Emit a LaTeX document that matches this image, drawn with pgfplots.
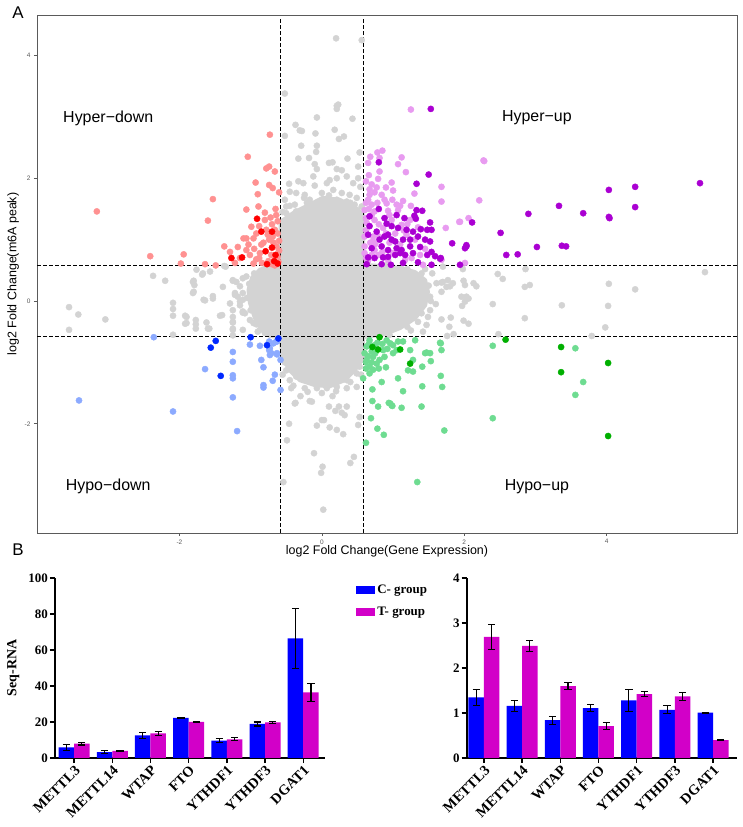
\documentclass[border=0pt]{standalone}
\usepackage{pgfplots}
\pgfplotsset{compat=1.18}
\usepackage{pgfplotstable}
\usepackage{fontspec}
\setmainfont{Liberation Serif}
\setsansfont{Liberation Sans}

\definecolor{ggray}{RGB}{211,211,211}
\definecolor{hdlight}{RGB}{255,145,145}
\definecolor{hddark}{RGB}{255,0,0}
\definecolor{hulight}{RGB}{232,155,240}
\definecolor{hudark}{RGB}{170,0,210}
\definecolor{pdlight}{RGB}{140,170,255}
\definecolor{pddark}{RGB}{0,40,255}
\definecolor{pulight}{RGB}{110,220,145}
\definecolor{pudark}{RGB}{0,175,0}
\definecolor{cgrp}{RGB}{0,0,255}
\definecolor{tgrp}{RGB}{210,0,200}
\definecolor{axgray}{RGB}{90,90,90}

% Seq-RNA counts: mean and error for C- and T- groups
\pgfplotstableread{
x  c     ce    t     te
0  5.9   1.6   8.0   0.8
1  3.2   0.8   3.9   0.3
2  12.6  1.6   13.7  1.1
3  22.3  0.4   20.0  0.3
4  9.6   1.0   10.4  0.8
5  18.9  1.1   19.8  0.4
6  66.5  16.6  36.4  4.9
}\seqcounts

% relative expression
\pgfplotstableread{
x  c     ce    t     te
0  1.35  0.18  2.69  0.28
1  1.16  0.12  2.49  0.12
2  0.84  0.09  1.60  0.07
3  1.11  0.07  0.71  0.07
4  1.28  0.25  1.42  0.05
5  1.07  0.09  1.37  0.09
6  1.01  0.01  0.40  0.02
}\relexpr

\pgfplotsset{
  dot/.style={only marks, mark=*, mark size=3.1bp, color=#1, mark options={draw=#1, fill=#1}},
  barpanel/.style={
    scale only axis, width=270bp, height=180bp,
    ymin=0,
    axis x line*=bottom, axis y line*=left,
    axis line style={-, black, line width=1.6bp},
    tick style={black, line width=1.4bp},
    tick align=outside, major tick length=5bp,
    ybar=0pt, bar width=15.5bp,
    xtick={0,...,6},
    xticklabels={METTL3,METTL14,WTAP,FTO,YTHDF1,YTHDF3,DGAT1},
    xticklabel style={rotate=45, anchor=north east, inner sep=1bp,
      font=\bfseries\fontsize{14.5}{14.5}\selectfont},
    yticklabel style={font=\bfseries\fontsize{13}{13}\selectfont, inner sep=2bp},
    /pgf/number format/assume math mode=true,
    error bars/y dir=both, error bars/y explicit,
    error bars/error bar style={black, line width=1.1bp},
    error bars/error mark options={black, rotate=90, mark size=3.6bp, line width=1.1bp},
  },
}

\begin{document}
\begin{tikzpicture}
\path[use as bounding box] (0,0) rectangle (743bp,827bp);

% ---------------- panel A: m6A peak vs gene expression ----------------
\begin{axis}[
  at={(37bp,294bp)}, anchor=south west,
  scale only axis, width=700bp, height=518bp,
  xmin=-4.0, xmax=5.83, ymin=-3.78, ymax=4.66,
  xtick={-2,0,2,4}, ytick={-2,0,2,4},
  axis line style={axgray, line width=0.8bp},
  tick style={axgray, line width=0.6bp},
  tick align=outside, major tick length=3bp,
  xtick pos=bottom, ytick pos=left,
  ticklabel style={font=\sffamily\fontsize{6.5}{6.5}\selectfont, text=axgray},
  /pgf/number format/assume math mode=true,
  xlabel={log2 Fold Change(Gene Expression)},
  ylabel={log2 Fold Change(m6A peak)},
  label style={font=\sffamily\fontsize{12.5}{12.5}\selectfont},
  xlabel style={at={(axis description cs:0.5,-0.035)}, anchor=center},
  ylabel style={at={(axis description cs:-0.034,0.5)}, anchor=center},
]
% dense core of unchanged peaks
\addplot[fill=ggray, draw=ggray, line width=4bp, line join=round] coordinates {
 (-0.58,1.29) (-0.38,1.45) (-0.17,1.57) (0.01,1.68) (0.25,1.65) (0.46,1.53)
 (0.58,1.40) (0.58,0.59) (0.81,0.57) (1.10,0.54) (1.31,0.47) (1.45,0.34)
 (1.49,0.15) (1.45,-0.07) (1.31,-0.28) (1.10,-0.44) (0.88,-0.54) (0.58,-0.59)
 (0.58,-0.93) (0.46,-1.13) (0.32,-1.29) (0.11,-1.39) (-0.10,-1.37) (-0.31,-1.29)
 (-0.45,-1.13) (-0.55,-0.93) (-0.58,-0.59) (-0.73,-0.57) (-0.84,-0.47) (-0.94,-0.28)
 (-1.01,-0.03) (-1.03,0.18) (-0.98,0.38) (-0.87,0.51) (-0.73,0.57) (-0.58,0.59)
} -- cycle;
% unchanged peaks outside the core
\addplot[dot=ggray] coordinates {
 (0.20,4.28) (0.56,4.25) (-0.52,3.38) (0.21,3.18) (0.23,3.20) (0.21,3.13) (-0.07,2.99)
 (0.43,2.97) (-0.37,2.87) (-0.31,2.78) (-0.28,2.77) (-0.52,2.69) (0.18,2.79) (0.31,2.68)
 (0.24,2.64) (-0.09,2.73) (-0.29,2.53) (-0.07,2.53) (-0.08,2.43) (-0.33,2.32) (-0.18,2.33)
 (0.36,2.32) (0.53,2.42) (0.10,2.25) (0.15,2.26) (-0.10,2.23) (-0.07,2.15) (0.21,2.15)
 (0.28,2.13) (0.51,2.19) (-0.33,1.95) (-0.26,1.92) (-0.46,1.91) (-0.12,2.03) (-0.10,1.88)
 (0.07,1.92) (0.11,1.97) (0.21,2.00) (0.35,2.03) (0.44,1.92) (0.51,2.00) (0.54,1.86)
 (-0.45,1.78) (-0.36,1.76) (-0.24,1.73) (-0.17,1.65) (0.00,1.76) (0.16,1.81) (0.28,1.76)
 (0.39,1.73) (0.49,1.68) (-0.52,1.65) (-0.50,1.54) (-0.38,1.57) (-0.21,1.60) (-0.07,1.54)
 (0.07,1.62) (0.21,1.65) (0.35,1.62) (0.46,1.57) (0.56,1.54) (-0.50,1.43) (-0.36,1.46)
 (-0.19,1.43) (-0.03,1.48) (0.11,1.51) (0.25,1.47) (0.39,1.46) (0.53,1.40) (-0.54,1.30)
 (0.55,1.30) (-0.55,1.45) (-0.45,1.55) (0.50,1.48) (0.40,1.60) (-0.25,1.68) (0.10,1.72)
 (-3.55,-0.10) (-3.42,-0.22) (-3.55,-0.47) (-3.04,-0.30) (-2.37,0.41) (-2.20,0.33)
 (-2.09,-0.03) (-2.09,-0.13) (-2.09,-0.24) (-2.09,-0.55) (-1.92,-0.24) (-1.92,-0.37)
 (-1.80,0.33) (-1.79,0.26) (-1.81,0.13) (-1.77,-0.31) (-1.77,-0.38) (-1.77,-0.45)
 (-1.68,0.43) (-1.64,0.01) (-1.62,-0.35) (-1.58,-0.45) (-1.53,0.08) (-1.57,0.48)
 (-1.40,-0.23) (-1.39,0.23) (-1.37,0.57) (-1.29,-0.04) (-1.25,-0.15) (-1.25,-0.26)
 (-1.25,-0.35) (-1.25,-0.45) (-1.25,-0.56) (-1.25,0.33) (-1.20,0.31) (-1.22,0.10)
 (-1.18,0.07) (-1.11,0.02) (-1.11,-0.19) (-1.15,0.24) (-1.11,0.13) (-1.06,0.40)
 (-1.11,0.37) (-1.90,-0.26) (-1.90,-0.36) (-1.43,-0.24) (-1.53,0.04) (-1.66,0.02)
 (-1.15,-0.07) (-1.08,-0.20) (-0.96,-0.36) (-0.87,-0.47) (-1.81,0.31) (-1.80,0.15)
 (-1.67,0.45) (-1.25,0.34) (-1.11,-0.17) (-1.25,-0.34) (-1.11,-0.47) (-1.01,-0.31)
 (-1.60,-0.45) (-1.76,0.51) (-1.25,-0.47) (-1.22,0.13) (-1.15,-0.01) (-1.35,0.56)
 (-0.95,0.45) (-0.90,-0.50) (-1.05,0.05) (-1.02,0.28) (-1.00,-0.15) (-0.92,-0.38)
 (-0.80,-0.52)
 (-0.46,-2.00) (-0.49,-2.27) (-0.54,-2.95) (-0.37,-1.66) (-0.17,-1.63) (-0.14,-1.64)
 (-0.07,-2.03) (0.00,-1.94) (0.03,-1.94) (0.10,-1.72) (0.19,-1.79) (0.24,-1.72)
 (0.28,-1.82) (0.35,-1.72) (0.32,-1.86) (0.11,-2.06) (0.21,-2.10) (0.30,-2.17)
 (-0.11,-2.48) (0.01,-2.70) (-0.01,-2.80) (0.40,-2.64) (0.45,-2.54) (0.02,-3.40)
 (0.53,-1.89) (0.51,-2.02) (-0.43,-1.42) (-0.24,-1.42) (-0.07,-1.42) (0.07,-1.42)
 (0.21,-1.40) (0.35,-1.42) (0.49,-1.40) (-0.50,-1.13) (-0.45,-1.29) (-0.36,-1.23)
 (-0.21,-1.29) (0.35,-1.29) (0.49,-1.18) (0.53,-1.07) (-0.38,-1.67) (-0.30,-1.55)
 (0.15,-1.55) (-0.52,-1.00) (0.55,-0.90) (-0.55,-1.20) (-0.40,-1.38) (-0.20,-1.48)
 (0.00,-1.50) (0.20,-1.47) (0.40,-1.32) (0.55,-1.20)
 (1.70,0.56) (1.68,0.30) (1.77,0.34) (1.80,0.24) (1.84,0.29) (1.75,0.23) (1.98,0.52)
 (1.99,0.33) (2.01,0.26) (1.96,0.07) (2.03,0.07) (2.06,0.04) (1.97,-0.08) (2.01,-0.01)
 (2.13,0.29) (2.17,0.24) (1.68,-0.30) (1.81,-0.27) (1.79,-0.42) (1.99,-0.32) (2.06,-0.37)
 (1.85,-0.54) (1.76,-0.57) (2.40,-0.05) (2.47,0.44) (2.54,0.36) (2.48,-0.54) (2.86,0.52)
 (2.85,0.23) (2.92,0.26) (2.85,-0.28) (3.37,-0.07) (3.79,-0.57) (3.98,-0.43) (4.03,0.28)
 (4.02,-0.08) (4.40,0.19) (5.38,0.47) (1.61,0.29) (1.70,0.31) (1.68,0.15) (1.52,-0.15)
 (1.49,-0.26) (1.47,-0.39) (1.42,-0.50) (1.35,-0.34) (1.38,0.02) (1.52,0.07) (1.38,0.26)
 (1.55,0.45) (1.45,0.52) (1.25,-0.48) (1.60,-0.05) (1.50,0.25) (1.53,0.00) (1.40,-0.20)
 (1.20,-0.42) (0.95,-0.55) (1.20,0.52) (1.40,0.45) (0.90,0.58)
};
% hyper-down
\addplot[dot=hdlight] coordinates {
 (-3.16,1.46) (-2.41,0.73) (-1.94,0.76) (-1.98,0.61) (-1.64,0.60) (-1.49,0.58)
 (-1.53,1.66) (-1.60,1.31) (-1.37,0.89) (-1.29,0.80) (-1.04,2.35) (-1.06,1.49)
 (-1.10,1.02) (-1.06,1.02) (-0.96,1.02) (-0.93,1.93) (-0.90,1.74) (-0.99,1.21)
 (-0.89,1.54) (-1.06,0.83) (-1.15,0.70) (-1.01,0.75) (-0.80,1.44) (-0.78,2.16)
 (-0.74,2.19) (-0.74,1.89) (-0.69,1.84) (-0.66,2.11) (-0.65,1.50) (-0.60,1.77)
 (-0.73,2.71) (-0.80,1.32) (-0.78,1.16) (-0.74,1.00) (-0.69,1.05) (-0.66,1.16)
 (-0.64,0.89) (-0.71,0.75) (-0.87,0.78) (-0.96,0.61) (-0.61,0.64) (-0.62,1.30)
 (-0.68,0.95) (-0.62,0.72) (-0.75,0.65) (-0.85,0.92) (-0.92,0.68) (-0.62,1.10)
 (-0.95,0.85) (-0.88,0.70) (-0.82,0.95) (-0.76,1.08) (-0.70,1.25) (-0.64,1.40)
 (-0.92,1.10) (-0.66,0.58) (-0.84,0.62) (-1.03,0.92) (-0.60,0.98) (-0.72,1.36)
 (-0.88,1.22) (-1.18,0.88) (-1.22,0.62) (-0.60,0.82) (-0.70,0.60)
};
\addplot[dot=hddark] coordinates {
 (-0.91,1.34) (-0.85,1.13) (-0.70,1.13) (-0.70,0.87) (-0.79,0.81) (-0.65,0.75)
 (-0.67,0.65) (-0.77,0.60) (-0.62,0.61) (-1.12,0.71) (-1.27,0.70)
};
% hyper-up
\addplot[dot=hulight] coordinates {
 (0.78,2.42) (0.81,2.33) (0.65,2.25) (1.12,2.34) (1.07,2.23) (1.18,2.10) (0.79,1.99)
 (0.98,1.93) (0.81,2.11) (1.68,1.86) (1.68,1.62) (2.21,1.64) (2.27,2.29) (0.67,1.82)
 (0.67,1.73) (0.74,1.77) (0.65,1.65) (0.84,1.73) (0.99,1.65) (1.14,1.63) (1.05,1.57)
 (0.70,1.57) (0.91,1.59) (0.74,1.46) (0.93,1.47) (1.07,1.48) (1.24,1.32) (1.12,1.24)
 (0.86,1.19) (1.03,1.10) (0.72,0.97) (0.60,0.89) (0.63,1.27) (0.74,1.32) (1.19,1.08)
 (1.31,1.00) (0.74,0.83) (0.60,0.78) (0.93,0.67) (1.26,0.70) (1.38,0.75) (1.94,1.29)
 (2.06,1.35) (1.74,1.19) (1.68,0.67) (1.42,0.59) (1.17,0.67) (0.79,0.75) (0.72,1.05)
 (0.98,1.32) (0.60,1.48) (0.60,1.05) (1.25,3.12) (1.93,1.29) (2.28,2.28) (2.01,0.62)
 (0.62,1.60) (0.70,1.40) (0.80,1.25) (0.90,1.10) (0.75,0.93) (0.85,0.80) (0.65,0.66)
 (1.00,0.78) (1.10,0.92) (1.20,1.25) (0.95,1.40) (1.10,1.55) (0.88,1.65) (0.77,1.85)
 (0.62,1.95) (1.25,1.55) (1.35,1.20) (1.45,0.85) (0.62,1.15) (0.70,0.75) (0.66,2.05)
 (0.85,2.45) (0.90,1.85) (1.30,1.75) (0.68,2.35) (0.62,1.35) (0.66,1.50) (0.78,1.60)
 (0.68,0.95) (0.80,1.05) (0.95,0.95) (1.15,1.15) (0.62,0.70) (1.00,1.80) (0.70,1.90)
};
\addplot[dot=hudark] coordinates {
 (0.80,2.26) (1.50,2.06) (1.33,1.91) (0.80,1.50) (1.33,1.48) (1.41,1.47) (1.05,1.40)
 (1.30,1.39) (1.16,1.35) (1.32,1.34) (0.67,1.38) (0.88,1.35) (0.67,1.22) (0.91,1.26)
 (0.98,1.22) (1.07,1.19) (1.19,1.16) (1.28,1.13) (1.39,1.17) (1.52,1.28) (1.48,1.16)
 (1.54,1.16) (0.65,1.08) (0.77,1.13) (0.81,1.00) (0.88,1.05) (0.93,1.08) (0.98,1.00)
 (1.03,0.97) (1.14,1.00) (1.24,1.00) (1.35,1.05) (1.45,1.00) (1.52,0.97) (0.70,0.86)
 (0.84,0.89) (0.93,0.83) (1.05,0.86) (1.12,0.83) (1.24,0.89) (1.38,0.88) (0.65,0.71)
 (0.74,0.70) (0.86,0.71) (0.93,0.72) (1.03,0.75) (1.10,0.78) (1.17,0.75) (1.28,0.78)
 (1.54,0.80) (1.59,0.73) (1.48,0.75) (1.67,0.70) (0.63,0.60) (0.84,0.60) (0.97,0.59)
 (1.14,0.62) (1.35,0.63) (1.54,0.59) (1.94,0.59) (1.83,0.94) (2.03,0.89) (2.11,1.28)
 (2.01,0.86) (1.53,3.13) (2.03,0.91) (1.66,0.69) (2.51,1.11) (2.90,1.42) (2.59,0.75)
 (2.75,0.76) (3.02,0.88) (3.33,1.55) (3.67,1.43) (3.37,0.90) (3.43,0.89) (4.03,1.81)
 (4.40,1.86) (4.03,1.37) (4.04,1.35) (4.40,1.53) (5.31,1.92)
};
% hypo-down
\addplot[dot=pdlight] coordinates {
 (-2.36,-0.59) (-3.41,-1.62) (-2.09,-1.80) (-1.19,-2.12) (-1.64,-1.11) (-1.25,-0.83)
 (-1.25,-0.99) (-1.25,-1.21) (-1.25,-1.26) (-1.25,-1.57) (-1.01,-0.71) (-0.87,-0.73)
 (-0.85,-0.96) (-0.82,-1.08) (-0.82,-1.37) (-0.82,-1.41) (-0.69,-1.30) (-0.66,-1.20)
 (-0.74,-0.80) (-0.68,-0.69) (-0.63,-0.85) (-0.58,-0.96) (-0.58,-1.45) (-0.73,-0.88)
 (-0.64,-0.66) (-0.73,-0.77) (-0.71,-0.85) (-0.63,-0.87) (-0.74,-0.66) (-0.63,-0.66)
};
\addplot[dot=pddark] coordinates {
 (-1.49,-0.65) (-1.56,-0.76) (-1.42,-1.22) (-1.00,-0.59) (-0.77,-0.72) (-0.61,-0.61)
};
% hypo-up
\addplot[dot=pulight] coordinates {
 (0.67,-0.64) (0.63,-0.74) (0.60,-0.85) (0.63,-0.96) (0.67,-1.07) (0.58,-1.26)
 (0.72,-0.91) (0.77,-1.02) (0.81,-0.96) (0.86,-0.80) (0.96,-0.69) (1.00,-0.85)
 (1.07,-0.66) (1.14,-0.66) (1.31,-0.64) (1.24,-0.80) (1.28,-0.96) (1.21,-1.13)
 (1.07,-1.26) (0.84,-1.32) (0.71,-1.44) (0.79,-1.72) (0.96,-1.67) (0.99,-1.71)
 (1.12,-1.74) (1.40,-1.72) (1.41,-1.39) (1.41,-1.07) (1.47,-0.84) (1.52,-0.85)
 (1.53,-0.98) (1.67,-0.69) (1.68,-0.80) (1.67,-1.22) (1.69,-1.40) (0.69,-1.91)
 (0.78,-2.08) (0.87,-2.18) (0.62,-2.31) (1.72,-2.11) (1.34,-2.95) (0.71,-1.63)
 (0.67,-1.18) (0.74,-0.72) (0.88,-0.91) (0.91,-0.64) (2.40,-0.73) (2.40,-1.91)
 (3.56,-0.77) (3.67,-1.32) (3.56,-1.53) (1.66,-0.68) (1.14,-1.47) (1.28,-1.15)
 (1.45,-0.85) (0.94,-1.66) (0.98,-1.70) (0.65,-0.90) (0.70,-0.82) (0.75,-0.85)
 (0.62,-1.00) (0.70,-1.00) (0.78,-0.68) (0.85,-0.70) (0.92,-0.78) (0.66,-0.70)
 (0.80,-1.10) (0.90,-1.08) (1.00,-0.72) (1.05,-0.80) (0.72,-1.12) (0.62,-1.10)
};
\addplot[dot=pudark] coordinates {
 (0.81,-0.59) (0.71,-0.75) (0.79,-0.79) (1.10,-0.79) (1.24,-1.02) (2.58,-0.63)
 (3.36,-0.75) (3.36,-1.16) (4.02,-1.01) (4.02,-2.20)
};
% 1.5-fold thresholds
\addplot[black, dashed, dash pattern=on 3.5bp off 2.5bp, line width=0.9bp] coordinates {(-0.585,-3.78) (-0.585,4.61)};
\addplot[black, dashed, dash pattern=on 3.5bp off 2.5bp, line width=0.9bp] coordinates {(0.585,-3.78) (0.585,4.61)};
\addplot[black, dashed, dash pattern=on 3.5bp off 2.5bp, line width=0.9bp] coordinates {(-4.0,0.585) (5.83,0.585)};
\addplot[black, dashed, dash pattern=on 3.5bp off 2.5bp, line width=0.9bp] coordinates {(-4.0,-0.585) (5.83,-0.585)};
% quadrant names
\node[font=\sffamily\fontsize{16}{16}\selectfont] at (axis cs:-3.0,2.98) {Hyper−down};
\node[font=\sffamily\fontsize{16}{16}\selectfont] at (axis cs:3.02,2.98) {Hyper−up};
\node[font=\sffamily\fontsize{16}{16}\selectfont] at (axis cs:-3.0,-3.02) {Hypo−down};
\node[font=\sffamily\fontsize{16}{16}\selectfont] at (axis cs:3.02,-3.02) {Hypo−up};
\end{axis}

% ---------------- panel B, left: Seq-RNA ----------------
\begin{axis}[
  barpanel,
  at={(55bp,69bp)}, anchor=south west,
  xmin=-0.5, xmax=6.57, ymax=100,
  ytick={0,20,40,60,80,100},
  ylabel={Seq-RNA},
  ylabel style={at={(axis description cs:-0.155,0.5)}, anchor=center,
    font=\bfseries\fontsize{14}{14}\selectfont},
  legend style={at={(axis description cs:1.104,0.985)}, anchor=north west,
    draw=none, fill=none, row sep=8bp,
    font=\bfseries\fontsize{13}{13}\selectfont},
  legend cell align=left,
  legend image code/.code={\fill (0bp,-4bp) rectangle (19bp,4bp);},
]
\addplot[fill=cgrp, draw=none] table[x=x, y=c, y error=ce] {\seqcounts};
\addplot[fill=tgrp, draw=none] table[x=x, y=t, y error=te] {\seqcounts};
\legend{C- group, T- group}
\end{axis}

% ---------------- panel B, right: relative expression ----------------
\begin{axis}[
  barpanel,
  at={(466.7bp,69bp)}, anchor=south west,
  xmin=-0.45, xmax=6.62, ymax=4,
  ytick={0,1,2,3,4},
]
\addplot[fill=cgrp, draw=none] table[x=x, y=c, y error=ce] {\relexpr};
\addplot[fill=tgrp, draw=none] table[x=x, y=t, y error=te] {\relexpr};
\end{axis}

\node[font=\sffamily\fontsize{17}{17}\selectfont] at (18bp,814bp) {A};
\node[font=\sffamily\fontsize{17}{17}\selectfont] at (18bp,277bp) {B};
\end{tikzpicture}
\end{document}
